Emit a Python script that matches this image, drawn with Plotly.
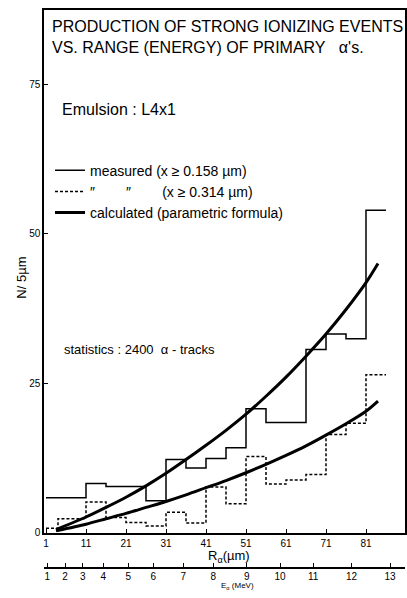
import plotly.graph_objects as go

# Histogram bin edges along the alpha range R (µm), 5 µm bins
bin_edges = [1, 6, 11, 16, 21, 26, 31, 36, 41, 46, 51, 56, 61, 66, 71, 76, 81, 86]
# Measured counts per 5 µm, threshold x >= 0.158 µm (solid)
measured_158 = [5.8, 5.8, 8.2, 7.7, 7.7, 5.3, 12.2, 10.8, 12.4, 14.2,
                20.7, 18.4, 18.4, 30.6, 33.2, 32.4, 53.9]

# Measured counts per 5 µm, threshold x >= 0.314 µm (dashed)
dashed_edges = [1, 4, 11, 16, 21, 26, 31, 36, 41, 46, 51, 56, 61, 66, 71, 76, 81, 86]
measured_314 = [0.7, 2.3, 5.1, 2.5, 1.7, 1.1, 3.4, 1.6, 7.6, 4.8,
                12.7, 8.1, 8.8, 9.7, 16.4, 18.3, 26.4]

# Parametric-formula curves
calc_range = [3.5, 11, 16, 21, 26, 31, 36, 41, 46, 51, 56, 61, 66, 71, 76, 81, 84]
calc_158 = [0.5, 2.6, 4.2, 5.9, 7.8, 9.9, 12.2, 14.6, 17.1, 19.8,
            22.8, 26.0, 29.5, 33.2, 37.3, 41.8, 45.0]
calc_314 = [0.3, 1.4, 2.3, 3.2, 4.2, 5.2, 6.3, 7.5, 8.7, 10.0,
            11.4, 12.9, 14.5, 16.3, 18.2, 20.3, 22.0]

# Axis ticks
range_ticks = [1, 11, 21, 31, 41, 51, 61, 71, 81]
count_ticks = [0, 25, 50, 75]
# Alpha energy (MeV) and the corresponding range (µm) for the lower scale
energy_labels = ["1", "2", "3", "4", "5", "6", "7", "8", "9", "10", "11", "12", "13"]
energy_at_range = [1.3, 5.75, 10.2, 15.3, 21.6, 27.8, 35.3, 42.8, 51.2, 59.5, 67.8, 77.4, 87.0]

FONT = "Liberation Sans"
INK = "black"
NB = "\u00a0"

fig = go.Figure()

fig.add_trace(go.Scatter(
    x=bin_edges, y=measured_158 + [measured_158[-1]], mode="lines",
    line=dict(color=INK, width=1.5, shape="hv"),
    name="measured (x ≥ 0.158 µm)",
))
fig.add_trace(go.Scatter(
    x=dashed_edges, y=measured_314 + [measured_314[-1]], mode="lines",
    line=dict(color=INK, width=1.5, shape="hv", dash="3px,2px"),
    name="\u2033" + NB * 8 + "\u2033" + NB * 8 + "(x ≥ 0.314 µm)",
))
fig.add_trace(go.Scatter(
    x=calc_range, y=calc_158, mode="lines",
    line=dict(color=INK, width=3, shape="spline", smoothing=0.8),
    name="calculated (parametric formula)",
))
fig.add_trace(go.Scatter(
    x=calc_range, y=calc_314, mode="lines",
    line=dict(color=INK, width=3, shape="spline", smoothing=0.8),
    showlegend=False,
))
# Empty trace bound to the energy scale so that axis is drawn
fig.add_trace(go.Scatter(
    x=energy_at_range, y=[None] * len(energy_at_range), xaxis="x2", yaxis="y",
    mode="lines", showlegend=False, hoverinfo="skip",
))

axis_common = dict(showgrid=False, zeroline=False, showline=True, linecolor=INK,
                   linewidth=1.5, ticks="inside", tickcolor=INK, tickwidth=1.2,
                   tickfont=dict(family=FONT, size=10, color=INK))

fig.update_layout(
    width=407, height=598, autosize=False,
    margin=dict(l=44, r=2, t=10, b=0),
    paper_bgcolor="white", plot_bgcolor="white",
    font=dict(family=FONT, color=INK),
    xaxis=dict(range=[0.5, 90.75], domain=[0, 1], anchor="y", mirror=True,
               tickvals=range_ticks, ticklen=4, ticklabelstandoff=1, **axis_common),
    yaxis=dict(range=[0, 87.4], domain=[0.1037, 1], anchor="x", mirror=True,
               tickvals=count_ticks, ticklen=4, **axis_common),
    xaxis2=dict(range=[0.5, 90.75], overlaying="x", anchor="free", position=0.0435,
                side="bottom", tickvals=energy_at_range, ticktext=energy_labels,
                ticklen=4, **axis_common),
    showlegend=True,
    legend=dict(x=0.0166, y=0.752, xanchor="left", yanchor="top",
                bgcolor="rgba(0,0,0,0)", borderwidth=0,
                font=dict(family=FONT, size=14, color=INK), tracegroupgap=0),
)

def note(text, x, y, size, xanchor="left", yanchor="middle", angle=0):
    fig.add_annotation(text=text, x=x, y=y, xref="paper", yref="paper",
                       xanchor=xanchor, yanchor=yanchor, showarrow=False,
                       textangle=angle, font=dict(family=FONT, size=size, color=INK))

note("PRODUCTION OF STRONG IONIZING EVENTS", 0.0166, 0.9711, 16)
note("VS. RANGE (ENERGY) OF PRIMARY" + NB * 3 + "α's.", 0.0166, 0.9354, 16)
note("Emulsion : L4x1", 0.0443, 0.830, 16)
note("statistics : 2400" + NB * 2 + "α - tracks", 0.0499, 0.4184, 13)
note("R<sub>α</sub>(µm)", 0.5125, 0.0800, 13, xanchor="center", yanchor="top")
note("E<sub>α</sub> (MeV)", 0.537, 0.0, 8, xanchor="center", yanchor="bottom")
note("N/ 5µm", -0.061, 0.5408, 13, xanchor="center", angle=-90)

fig.write_html("out.html")
